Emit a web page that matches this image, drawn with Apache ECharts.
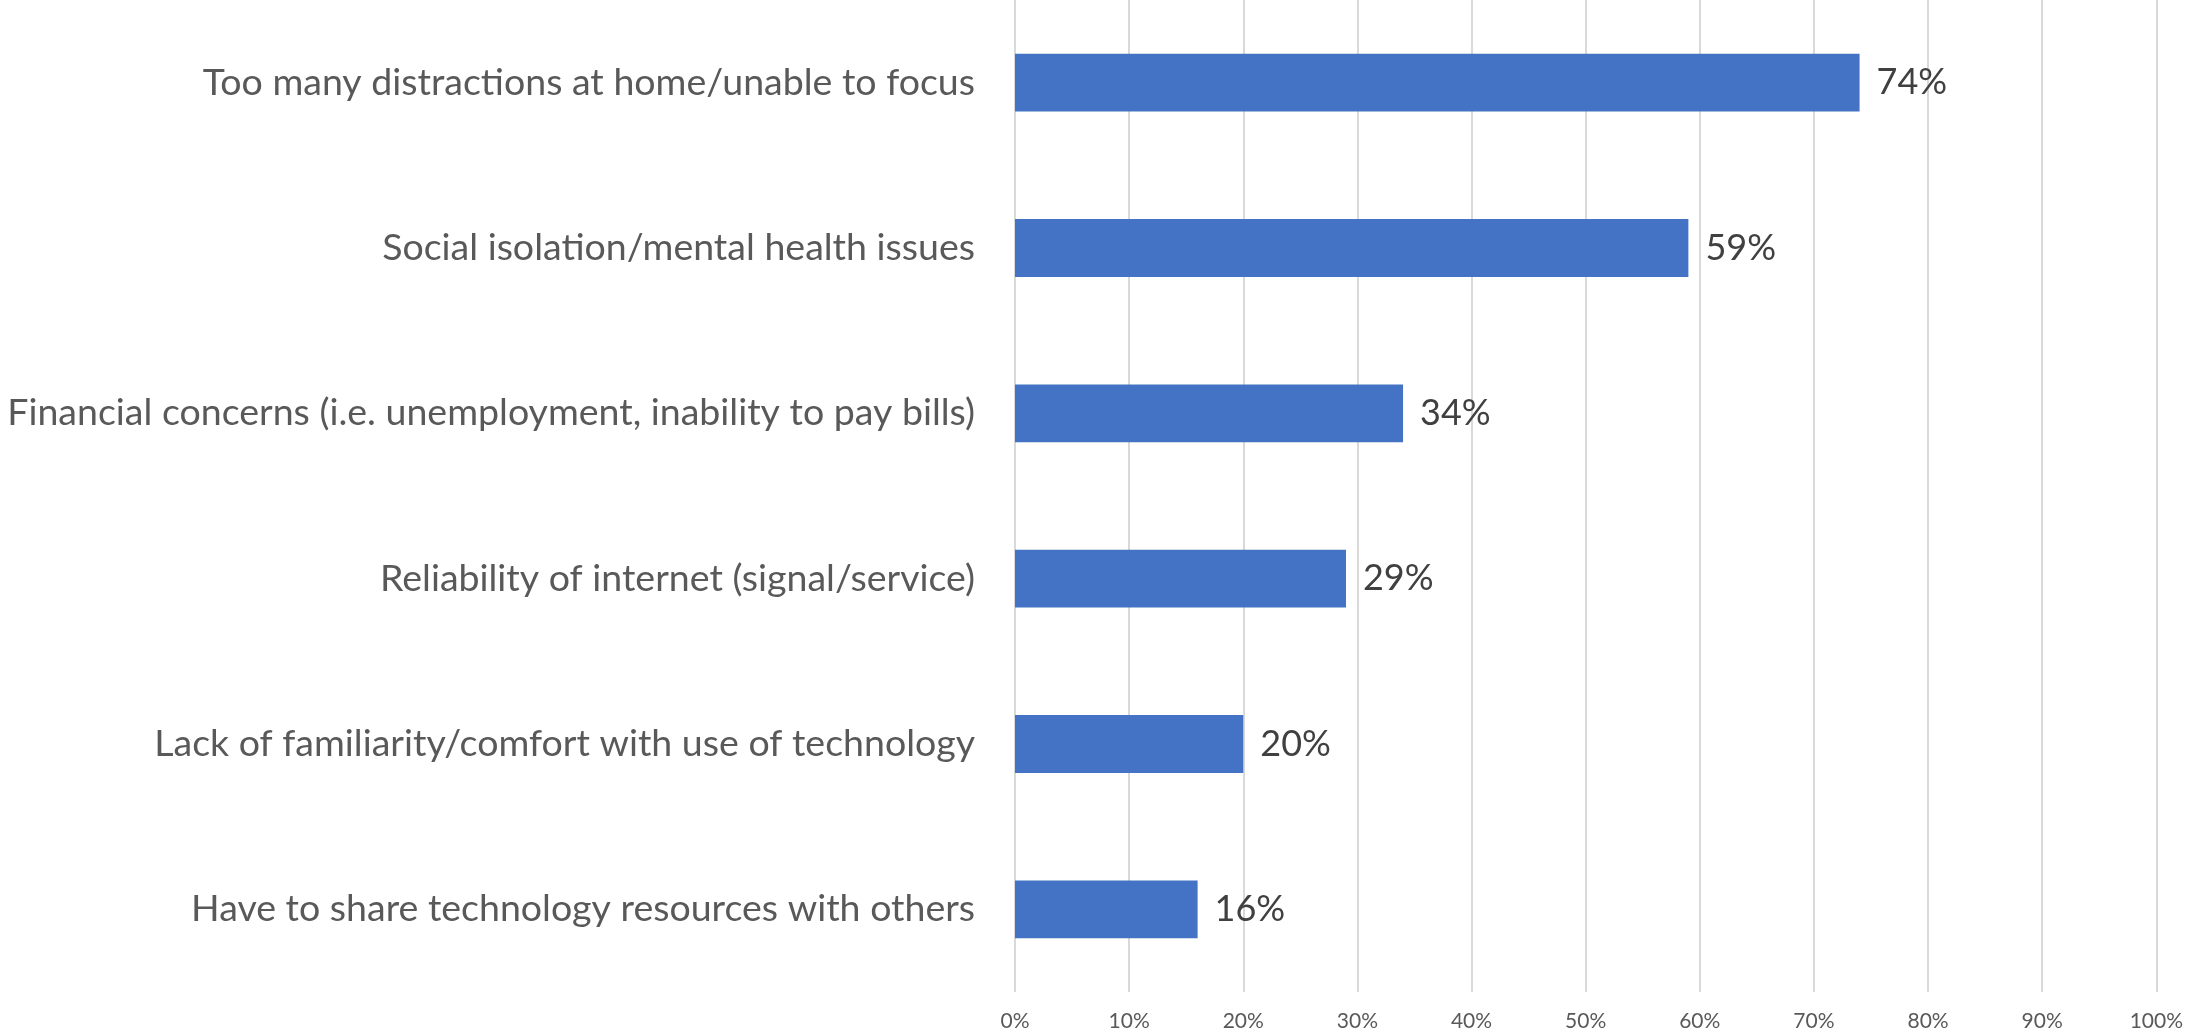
<!DOCTYPE html>
<html>
<head>
<meta charset="utf-8">
<script src="https://cdn.jsdelivr.net/npm/echarts@6/dist/echarts.min.js"></script>
<style>html,body{margin:0;padding:0;background:#fff;}#c{width:2186px;height:1033px;}</style>
</head>
<body>
<div id="c"></div>
<script>
const categories = [
  "Too many distractions at home/unable to focus",
  "Social isolation/mental health issues",
  "Financial concerns (i.e. unemployment, inability to pay bills)",
  "Reliability of internet (signal/service)",
  "Lack of familiarity/comfort with use of technology",
  "Have to share technology resources with others"
];
const values = [74, 59, 34, 29, 20, 16];
const tickMin = 0, tickMax = 100, tickStep = 10;

const chart = echarts.init(document.getElementById('c'));
chart.setOption({
  animation: false,
  backgroundColor: '#ffffff',
  grid: { left: 1015, right: 28, top: 0, bottom: 41 },
  xAxis: {
    type: 'value', min: tickMin, max: tickMax, interval: tickStep,
    axisLine: { show: false }, axisTick: { show: false },
    splitLine: { show: true, lineStyle: { color: '#d9d9d9', width: 2 } },
    axisLabel: { formatter: '{value}%', color: '#595959', fontFamily: 'Lato', fontSize: 21, margin: 19 }
  },
  yAxis: {
    type: 'category', data: categories, inverse: true,
    axisLine: { show: false }, axisTick: { show: false },
    axisLabel: { color: '#595959', fontFamily: 'Lato', fontSize: 37.5, margin: 40 }
  },
  series: [{
    type: 'bar', data: values, barCategoryGap: '65%',
    itemStyle: { color: '#4472C4' },
    label: { show: true, position: 'right', distance: 17, formatter: '{c}%', color: '#404040', fontFamily: 'Lato', fontSize: 36 }
  }]
});
</script>
</body>
</html>
